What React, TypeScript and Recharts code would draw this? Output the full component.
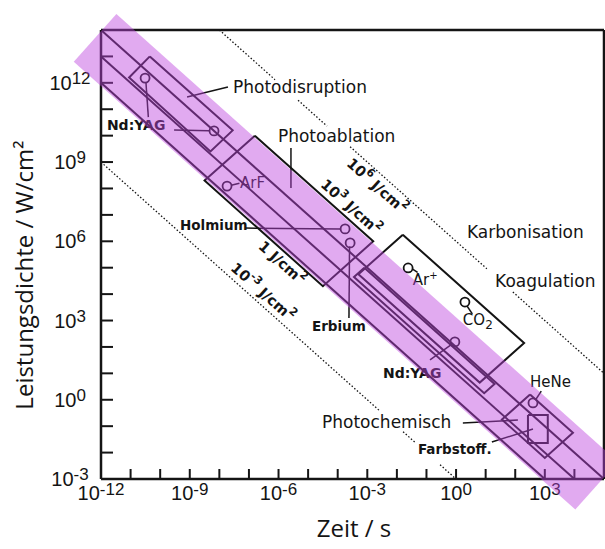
import React from 'react';
import { ComposedChart, XAxis, YAxis, Line, Scatter, ReferenceLine, ReferenceDot } from 'recharts';

type Pt = { x: number; y: number };

// Both axes hold log10 values: x = Zeit in s, y = Leistungsdichte in W/cm²
const timeDecades = [-12, -11, -10, -9, -8, -7, -6, -5, -4, -3, -2, -1, 0, 1, 2, 3, 4, 5];
const powerDecades = [-3, -2, -1, 0, 1, 2, 3, 4, 5, 6, 7, 8, 9, 10, 11, 12, 13, 14];

// solid lines of equal energy density (1, 10, 100 J/cm²)
const fluenceLines: Pt[][] = [
  [{ x: -12, y: 12 }, { x: 3, y: -3 }],
  [{ x: -12, y: 13 }, { x: 4, y: -3 }],
  [{ x: -12, y: 14 }, { x: 5, y: -3 }],
];

// dotted 10^-3 and 10^6 J/cm² lines, interrupted where texts sit
const dottedLines: Pt[][] = [
  [{ x: -12, y: 9 }, { x: -2.57, y: -0.43 }],
  [{ x: -1.79, y: -1.21 }, { x: -1.39, y: -1.61 }],
  [{ x: -0.54, y: -2.46 }, { x: 0, y: -3 }],
  [{ x: -8, y: 14 }, { x: -6.12, y: 12.12 }],
  [{ x: -5.34, y: 11.34 }, { x: -4.36, y: 10.36 }],
  [{ x: -3.58, y: 9.58 }, { x: 1.04, y: 4.96 }],
  [{ x: 1.92, y: 4.08 }, { x: 5, y: 1 }],
];

// outlines of the interaction regions (closed polygons)
const photodisruption: Pt[] = [
  { x: -10.35, y: 13.0 }, { x: -7.55, y: 10.2 }, { x: -8.3, y: 9.4 }, { x: -11.05, y: 12.2 }, { x: -10.35, y: 13.0 },
];
const photoablation: Pt[] = [
  { x: -6.8, y: 10.0 }, { x: -2.8, y: 6.0 }, { x: -4.5, y: 4.3 }, { x: -8.5, y: 8.3 }, { x: -6.8, y: 10.0 },
];
const koagulation: Pt[] = [
  { x: -1.8, y: 6.25 }, { x: 2.3, y: 2.15 }, { x: 0.8, y: 0.65 }, { x: -3.3, y: 4.75 }, { x: -1.8, y: 6.25 },
];
const ndYagCw: Pt[] = [
  { x: -3.1, y: 5.0 }, { x: 1.3, y: 0.6 }, { x: 0.95, y: 0.25 }, { x: -3.45, y: 4.65 }, { x: -3.1, y: 5.0 },
];
const photochemisch: Pt[] = [
  { x: 2.5, y: 0.2 }, { x: 3.95, y: -1.25 }, { x: 3.0, y: -2.2 }, { x: 1.55, y: -0.75 }, { x: 2.5, y: 0.2 },
];
const farbstoff: Pt[] = [
  { x: 2.43, y: -0.58 }, { x: 3.1, y: -0.58 }, { x: 3.1, y: -1.64 }, { x: 2.43, y: -1.64 }, { x: 2.43, y: -0.58 },
];
const regionOutlines = [photodisruption, photoablation, koagulation, ndYagCw, photochemisch, farbstoff];

// laser operating points
const laserPoints = [
  { laser: 'Nd:YAG', x: -10.51, y: 12.18 },
  { laser: 'Nd:YAG', x: -8.18, y: 10.18 },
  { laser: 'ArF', x: -7.74, y: 8.09 },
  { laser: 'Holmium', x: -3.75, y: 6.47 },
  { laser: 'Erbium', x: -3.58, y: 5.94 },
  { laser: 'Ar+', x: -1.62, y: 4.99 },
  { laser: 'CO2', x: 0.3, y: 3.7 },
  { laser: 'Nd:YAG', x: -0.04, y: 2.19 },
  { laser: 'HeNe', x: 2.6, y: -0.12 },
];

// pointer lines from the texts to their marks
const leaders: Pt[][] = [
  [{ x: -7.71, y: 11.84 }, { x: -9.09, y: 11.46 }],
  [{ x: -5.58, y: 9.53 }, { x: -5.58, y: 8.02 }],
  [{ x: -10.4, y: 10.7 }, { x: -10.48, y: 12.0 }],
  [{ x: -9.53, y: 10.21 }, { x: -8.35, y: 10.19 }],
  [{ x: -7.6, y: 8.12 }, { x: -7.32, y: 8.2 }],
  [{ x: -7.13, y: 6.5 }, { x: -3.9, y: 6.47 }],
  [{ x: -3.6, y: 5.8 }, { x: -3.62, y: 3.1 }],
  [{ x: -1.47, y: 4.95 }, { x: -1.3, y: 4.82 }],
  [{ x: 0.37, y: 3.55 }, { x: 0.55, y: 3.25 }],
  [{ x: -0.88, y: 1.51 }, { x: -0.15, y: 2.1 }],
  [{ x: 2.7, y: 0.02 }, { x: 2.88, y: 0.33 }],
  [{ x: 0.23, y: -0.88 }, { x: 2.09, y: -0.77 }],
  [{ x: 1.21, y: -1.6 }, { x: 2.6, y: -1.11 }],
];

// shaded working band, centre line at about 30 J/cm²
const bandAxis: Pt[] = [{ x: -12.2, y: 13.7 }, { x: 4.75, y: -3.25 }];

const ink = '#141414';
const slope = 41.75; // angle of the fluence lines on screen

const TimeTick = (p: any) => {
  const e = p.payload.value;
  if (e % 3 !== 0) return <g />;
  return (
    <text x={p.x} y={p.y} textAnchor="middle" fontFamily="Liberation Sans" fontSize={20} fill={ink}>
      10<tspan dy={-5} fontSize={17}>{e}</tspan>
    </text>
  );
};

const PowerTick = (p: any) => {
  const e = p.payload.value;
  if (e % 3 !== 0) return <g />;
  return (
    <text x={p.x} y={p.y + 7} textAnchor="middle" fontFamily="Liberation Sans" fontSize={20} fill={ink}>
      10<tspan dy={-6} fontSize={17}>{e}</tspan>
    </text>
  );
};

type TagStyle = { size: number; bold?: boolean; anchor?: 'start' | 'middle' | 'end'; angle?: number };

const tag = (key: string, x: number, y: number, body: React.ReactNode, s: TagStyle) => (
  <ReferenceDot
    key={key}
    x={x}
    y={y}
    r={0}
    ifOverflow="visible"
    shape={(p: any) => (
      <text
        x={p.cx}
        y={p.cy}
        fontFamily="DejaVu Sans"
        fontSize={s.size}
        fontWeight={s.bold ? 700 : 400}
        fill={ink}
        textAnchor={s.anchor || 'start'}
        dominantBaseline={s.angle ? 'central' : undefined}
        transform={s.angle ? `rotate(${s.angle} ${p.cx} ${p.cy})` : undefined}
      >
        {body}
      </text>
    )}
  />
);

// "10^e J/cm²" written along a fluence line
const fluenceText = (exp: string | null) => (
  <>
    {exp === null ? '1' : '10'}
    {exp !== null && <tspan dy={-6} fontSize={11}>{exp}</tspan>}
    <tspan dy={exp !== null ? 6 : 0}> J/cm</tspan>
    <tspan dy={-6} fontSize={11}>2</tspan>
  </>
);

export default function App() {
  return (
    <div style={{ position: 'absolute', left: 0, top: 0, width: 605, height: 549, background: '#fff' }}>
      <ComposedChart width={605} height={549} margin={{ top: 29, right: 0, bottom: 0, left: 0 }}>
        <XAxis
          dataKey="x"
          type="number"
          domain={[-12, 5]}
          ticks={timeDecades}
          interval={0}
          height={70}
          axisLine={{ stroke: ink, strokeWidth: 2.5 }}
          tickLine={{ stroke: ink, strokeWidth: 2 }}
          tickSize={-10}
          tickMargin={31}
          tick={TimeTick}
        />
        <XAxis
          xAxisId="top"
          orientation="top"
          type="number"
          domain={[-12, 5]}
          allowDataOverflow
          ticks={timeDecades}
          interval={0}
          height={1}
          axisLine={{ stroke: ink, strokeWidth: 2.5 }}
          tickLine={{ stroke: ink, strokeWidth: 2 }}
          tickSize={-10}
          tick={false}
        />
        <YAxis
          dataKey="y"
          type="number"
          domain={[-3, 14]}
          ticks={powerDecades}
          interval={0}
          width={101}
          axisLine={{ stroke: ink, strokeWidth: 2.5 }}
          tickLine={{ stroke: ink, strokeWidth: 2 }}
          tickSize={-12}
          tickMargin={43}
          tick={PowerTick}
        />
        <YAxis
          yAxisId="right"
          orientation="right"
          type="number"
          domain={[-3, 14]}
          allowDataOverflow
          ticks={powerDecades}
          interval={0}
          width={1}
          axisLine={{ stroke: ink, strokeWidth: 2.5 }}
          tickLine={{ stroke: ink, strokeWidth: 2 }}
          tickSize={-10}
          tick={false}
        />

        {fluenceLines.map((pts, i) => (
          <Line key={'fl' + i} data={pts} dataKey="y" stroke={ink} strokeWidth={2} dot={false} activeDot={false} isAnimationActive={false} />
        ))}
        {dottedLines.map((pts, i) => (
          <Line key={'dl' + i} data={pts} dataKey="y" stroke={ink} strokeWidth={1.3} strokeDasharray="1.5 2" dot={false} activeDot={false} isAnimationActive={false} />
        ))}
        {regionOutlines.map((pts, i) => (
          <Line key={'rg' + i} data={pts} dataKey="y" stroke={ink} strokeWidth={2} dot={false} activeDot={false} isAnimationActive={false} />
        ))}
        {leaders.map((pts, i) => (
          <Line key={'ld' + i} data={pts} dataKey="y" stroke={ink} strokeWidth={1.5} dot={false} activeDot={false} isAnimationActive={false} />
        ))}
        <Scatter
          data={laserPoints}
          isAnimationActive={false}
          shape={(p: any) => <circle cx={p.cx} cy={p.cy} r={4.5} fill="none" stroke={ink} strokeWidth={1.8} />}
        />

        {tag('t1', -7.54, 11.62, 'Photodisruption', { size: 17 })}
        {tag('t2', -6.02, 9.76, 'Photoablation', { size: 17 })}
        {tag('t3', 0.37, 6.13, 'Karbonisation', { size: 17 })}
        {tag('t4', 1.32, 4.27, 'Koagulation', { size: 17 })}
        {tag('t5', -4.53, -1.07, 'Photochemisch', { size: 17 })}
        {tag('t6', -1.29, -2.05, 'Farbstoff.', { size: 13.5, bold: true })}
        {tag('t7', 2.5, 0.48, 'HeNe', { size: 15 })}
        {tag('t8', -11.8, 10.21, 'Nd:YAG', { size: 14, bold: true })}
        {tag('t9', -7.3, 8.02, 'ArF', { size: 15 })}
        {tag('t10', -9.33, 6.43, 'Holmium', { size: 13.5, bold: true })}
        {tag('t11', -4.87, 2.6, 'Erbium', { size: 13.5, bold: true })}
        {tag('t12', -1.46, 4.35, <>Ar<tspan dy={-6} fontSize={10}>+</tspan></>, { size: 15 })}
        {tag('t13', 0.23, 2.83, <>CO<tspan dy={4} fontSize={12}>2</tspan></>, { size: 15 })}
        {tag('t14', -2.47, 0.82, 'Nd:YAG', { size: 14, bold: true })}
        {tag('f1', -2.67, 8.09, fluenceText('6'), { size: 14.5, bold: true, anchor: 'middle', angle: slope })}
        {tag('f2', -3.55, 7.3, fluenceText('3'), { size: 14.5, bold: true, anchor: 'middle', angle: slope })}
        {tag('f3', -5.88, 5.18, fluenceText(null), { size: 14.5, bold: true, anchor: 'middle', angle: slope })}
        {tag('f4', -6.53, 4.08, fluenceText('-3'), { size: 14.5, bold: true, anchor: 'middle', angle: slope })}

        <ReferenceLine
          segment={bandAxis}
          ifOverflow="visible"
          stroke="rgb(189,67,222)"
          strokeOpacity={0.45}
          strokeWidth={64}
          zIndex={2500}
        />
      </ComposedChart>
      <svg width={605} height={549} style={{ position: 'absolute', left: 0, top: 0, pointerEvents: 'none' }}>
        <text x={354} y={537} textAnchor="middle" fontFamily="Open Sans" fontSize={24} fill={ink}>
          Zeit / s
        </text>
        <text transform="translate(33 275) rotate(-90)" textAnchor="middle" fontFamily="Open Sans" fontSize={24} fill={ink}>
          Leistungsdichte / W/cm²
        </text>
      </svg>
    </div>
  );
}
